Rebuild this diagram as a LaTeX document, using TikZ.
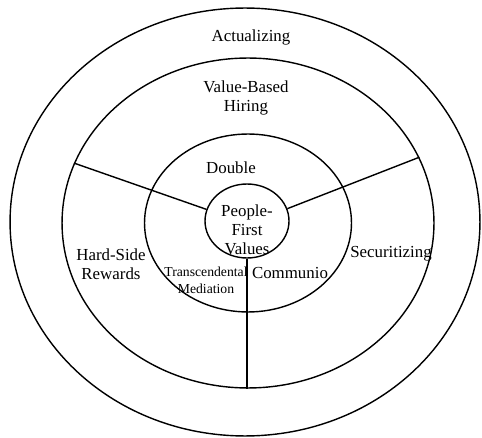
\documentclass[tikz,border=0pt]{standalone}
\usepackage{fontspec}
\setmainfont{Liberation Serif}
\usetikzlibrary{shapes.geometric}

\begin{document}
\begin{tikzpicture}[x=0.02cm,y=-0.02cm,line width=0.8pt,
    ring/.style={draw,ellipse,inner sep=0pt},
    lbl/.style={align=center,inner sep=0pt,font=\fontsize{9.6}{10.9}\selectfont}]
    \useasboundingbox (0,0) rectangle (482,438);
    % the four rings
    \node[ring,minimum width=9.4cm,minimum height=8.56cm] (act) at (245,222) {};
    \node[ring,minimum width=7.44cm,minimum height=6.6cm] (vbh) at (248,223) {};
    \node[ring,minimum width=4.14cm,minimum height=3.56cm] (dbl) at (248,223) {};
    \node[ring,fill=white,minimum width=1.68cm,minimum height=1.48cm] (pfv) at (247,221) {};
    % spokes
    \draw (pfv.164) -- (vbh.161);
    \draw (pfv.17) -- (vbh.21);
    \draw (pfv.south) -- (pfv.south |- vbh.south);
    % labels
    \node[lbl] (tact) at (251,37) {Actualizing};
    \node[lbl] (thire) at (246,98) {Value-Based\\Hiring};
    \node[lbl] (tdbl) at (231,168) {Double};
    \node[lbl] (tpfv) at (247,230) {People-\\First\\Values};
    \node[lbl] (thard) at (111,264) {Hard-Side\\Rewards};
    \node[lbl] (tsec) at (391,254) {Securitizing};
    \node[lbl,font=\fontsize{7.8}{9.6}\selectfont] (ttm) at (206,280) {Transcendental\\Mediation};
    \node[lbl] (tcom) at (290,273) {Communio};
  \end{tikzpicture}
\end{document}
